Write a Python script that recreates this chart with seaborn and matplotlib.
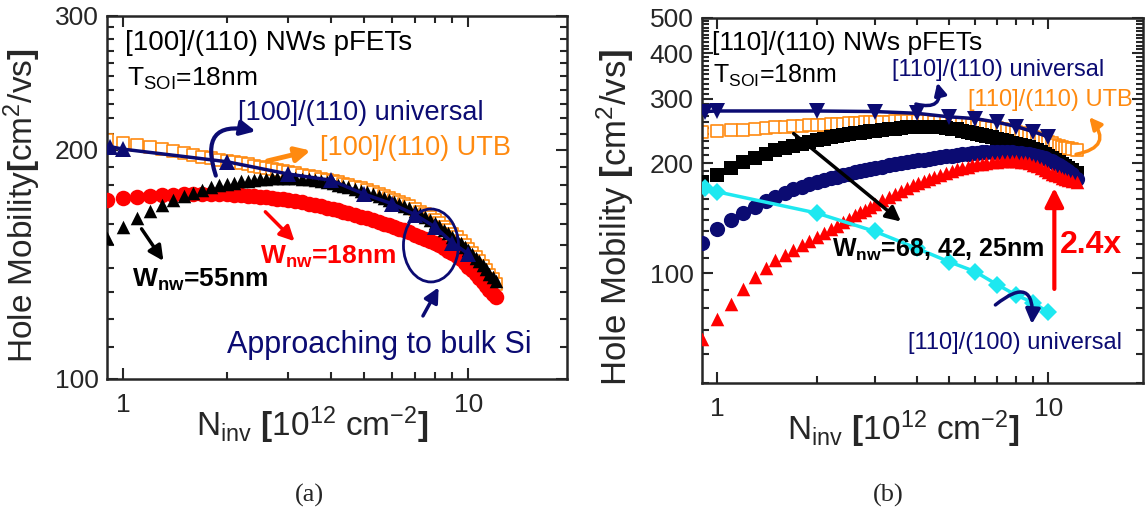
import matplotlib
matplotlib.use("Agg")
import matplotlib.pyplot as plt
from matplotlib.patches import Ellipse, FancyArrowPatch
from matplotlib.ticker import FixedLocator, FixedFormatter, MultipleLocator, NullFormatter
import seaborn as sns

# ---------------- data: panel (a) [100]/(110) ----------------
n_inv_a = [0.9, 1.0, 1.1, 1.2, 1.3, 1.4, 1.5, 1.6, 1.7, 1.8, 1.9, 2.0,
           2.1, 2.2, 2.3, 2.4, 2.5, 2.6, 2.7, 2.8, 2.9, 3.0,
           3.15, 3.3, 3.45, 3.6, 3.75, 3.9, 4.05, 4.2, 4.35, 4.5,
           4.7, 4.9, 5.1, 5.3, 5.5, 5.7, 5.9, 6.1, 6.3, 6.5,
           6.75, 7.0, 7.25, 7.5, 7.75, 8.0, 8.25, 8.5, 8.75, 9.0, 9.25,
           9.5, 9.75, 10.0, 10.25, 10.5, 10.75, 11.0, 11.25, 11.5, 11.75, 12.0]
mu_utb_a = [206, 204.5, 203, 201.6, 200.3, 199.1, 198, 197, 196, 195.1, 194.3, 193.5,
            192.8, 192.1, 191.4, 190.8, 190.2, 189.6, 189, 188.4, 187.8, 187.2,
            186.4, 185.6, 184.8, 184.1, 183.4, 182.7, 182, 181.3, 180.6, 179.9,
            178.9, 178, 177, 176, 175, 174, 173, 172, 171, 170,
            168.7, 167.4, 166, 164.6, 163.2, 161.7, 160.2, 158.6, 157, 155.3, 153.6,
            151.9, 150.1, 148.3, 146.5, 144.7, 142.8, 140.9, 139, 137.1, 135.2, 133.3]
mu_w18_a = [172, 173, 173.5, 174, 174.3, 174.6, 174.8, 175, 175, 175, 175, 174.8,
            174.6, 174.4, 174.2, 173.9, 173.6, 173.3, 173, 172.6, 172.2, 171.8,
            171.2, 170.6, 170, 169.3, 168.6, 168, 167.3, 166.6, 165.9, 165.2,
            164.2, 163.4, 162.6, 161.7, 160.8, 160, 159.2, 158.4, 157.6, 156.8,
            155.8, 154.8, 153.8, 152.8, 151.8, 150.8, 149.8, 148.7, 147.5, 146.2, 144.9,
            143.6, 142.1, 140.5, 138.9, 137.2, 135.6, 134, 132.5, 131, 129.5, 128]
mu_w55_a = [153, 158.5, 163, 166.5, 169.5, 172, 174, 175.8, 177.3, 178.6, 179.6, 180.5,
            181.2, 181.8, 182.3, 182.7, 183, 183.3, 183.5, 183.6, 183.7, 183.7,
            183.6, 183.3, 183, 182.5, 182, 181.4, 180.8, 180.1, 179.5, 178.8,
            177.8, 176.9, 175.9, 174.9, 173.9, 172.9, 171.9, 170.9, 169.9, 168.9,
            167.6, 166.3, 164.9, 163.4, 161.9, 160.4, 158.8, 157.2, 155.6, 153.8, 152.3,
            150.8, 149.2, 147.6, 146, 144.4, 142.7, 141, 139.3, 137.6, 136, 134.5]
n_univ_a = [0.92, 1, 2, 3, 4, 5, 6, 7, 8, 9, 10]
mu_univ_a = [202, 200.5, 193, 186, 182.5, 175, 170, 164.5, 158.5, 151, 146]

# ---------------- data: panel (b) [110]/(110) ----------------
n_inv_b = [0.9, 1.0, 1.1, 1.2, 1.3, 1.4, 1.5, 1.6, 1.7, 1.8, 1.9, 2.0,
           2.1, 2.2, 2.3, 2.4, 2.5, 2.6, 2.7, 2.8, 2.9, 3.0,
           3.15, 3.3, 3.45, 3.6, 3.75, 3.9, 4.05, 4.2, 4.35, 4.5,
           4.7, 4.9, 5.1, 5.3, 5.5, 5.7, 5.9, 6.1, 6.3, 6.5,
           6.75, 7.0, 7.25, 7.5, 7.75, 8.0, 8.25, 8.5, 8.75, 9.0, 9.25,
           9.5, 9.75, 10.0, 10.25, 10.5, 10.75, 11.0, 11.25, 11.5, 11.75, 12.2]
mu_utb_b = [243, 244.5, 246, 247.3, 248.5, 249.5, 250.5, 251.4, 252.2, 253, 253.7, 254.4,
            255.1, 255.7, 256.3, 256.8, 257.3, 257.8, 258.2, 258.6, 259, 259.3,
            259.7, 260, 260.2, 260.4, 260.5, 260.5, 260.5, 260.4, 260.2, 259.9,
            259.4, 258.9, 258.3, 257.6, 256.8, 255.9, 255, 254, 252.9, 251.8,
            250.4, 249, 247.5, 246, 244.4, 242.8, 241.2, 239.5, 237.8, 236, 234.2,
            232.4, 230.5, 228.7, 226.8, 225, 223.5, 222, 220.8, 219.5, 218.5, 217]
mu_w68_b = [178, 186, 194.5, 201, 207, 212.3, 216.8, 220.5, 223.6, 226.4, 229, 231.5,
            233.5, 235.3, 237, 238.5, 239.9, 241.2, 242.3, 243.4, 244.5, 245.5,
            246.8, 247.9, 248.9, 249.8, 250.6, 251.1, 251.6, 251.8, 251.8, 251.6,
            251, 250, 248.9, 247.5, 245.7, 243.9, 242.2, 240.5, 238.9, 237.2,
            235.2, 233.2, 231.3, 229.5, 227.8, 226.2, 224.6, 222.9, 221, 219, 216.8,
            214.5, 211.8, 209, 206.2, 203.5, 201, 198.5, 196.2, 194, 191.8, 188]
mu_w42_b = [121, 132, 139.5, 146, 152, 157.3, 162, 166.2, 169.6, 172.6, 175.3, 177.8,
            180, 182, 183.8, 185.5, 187.2, 188.8, 190.3, 191.7, 193, 194.2,
            195.8, 197.3, 198.7, 200, 201.2, 202.4, 203.5, 204.5, 205.5, 206.4,
            207.6, 208.7, 209.7, 210.6, 211.5, 212.3, 213, 213.6, 214.1, 214.5,
            214.8, 215, 215, 214.8, 214.4, 213.9, 213.3, 212.5, 211.5, 210.4, 209.2,
            207.8, 206.2, 204.5, 202.5, 200.4, 198.1, 195.6, 193, 190.2, 187.2, 181]
mu_w25_b = [66, 75, 82.5, 90.5, 97.5, 103.3, 108.3, 112.3, 116, 119.4, 122.7, 125.9,
            129, 132, 135, 138, 141, 143.8, 146.6, 149.3, 152, 154.6,
            158.3, 161.8, 165, 168, 171.2, 174.1, 176.8, 179.2, 181.4, 183.6,
            186.2, 188.5, 190.5, 192.4, 194.2, 195.8, 197.2, 198.4, 199.4, 200.3,
            201.2, 202, 202.4, 202.6, 202.6, 202.4, 201.9, 201.1, 199.8, 198, 196,
            194, 191.8, 189.5, 187.4, 185.5, 183.9, 182.5, 181.3, 180.2, 179.2, 177.5]
n_univ_b = [0.92, 1, 2, 3, 4, 5, 6, 7, 8, 9, 10]
mu_univ_110_b = [277, 278, 278, 277, 274, 268, 265, 259, 252, 244, 236]
mu_univ_100_b = [171, 167, 146, 130, 117, 107.5, 101, 93, 87, 83, 78]

x_ticks = [1, 10]
x_tick_labels = ["1", "10"]
y_ticks_a = [100, 200, 300]
y_ticks_b = [100, 200, 300, 400, 500]

NAVY = "#0b0b72"
ORANGE = "#ff8a10"
RED = "#ff0000"
CYAN = "#1ee8f0"

sns.set_style("ticks")
plt.rcParams["font.family"] = ["Liberation Sans", "DejaVu Sans"]
plt.rcParams["mathtext.fontset"] = "custom"
plt.rcParams["mathtext.rm"] = "Liberation Sans"
plt.rcParams["mathtext.it"] = "Liberation Sans:italic"
plt.rcParams["mathtext.bf"] = "Liberation Sans:bold"

fig = plt.figure(figsize=(11.47, 5.12), dpi=100)
ax_a = fig.add_axes([0.0933, 0.2598, 0.401, 0.709])
ax_b = fig.add_axes([0.612, 0.252, 0.3845, 0.713])


def style_axes(ax, ylim, yticks):
    ax.set_xscale("log")
    ax.set_yscale("log")
    ax.set_xlim(0.9, 19.3)
    ax.set_ylim(*ylim)
    ax.xaxis.set_major_locator(FixedLocator(x_ticks))
    ax.xaxis.set_major_formatter(FixedFormatter(x_tick_labels))
    ax.xaxis.set_minor_locator(FixedLocator([2, 3, 4, 5, 6, 7, 8, 9]))
    ax.xaxis.set_minor_formatter(NullFormatter())
    ax.yaxis.set_major_locator(FixedLocator(yticks))
    ax.yaxis.set_major_formatter(FixedFormatter([str(v) for v in yticks]))
    ax.yaxis.set_minor_locator(MultipleLocator(10))
    ax.yaxis.set_minor_formatter(NullFormatter())
    ax.tick_params(which="both", direction="in", top=True, right=True, width=1.5)
    ax.tick_params(which="major", length=8, labelsize=19)
    ax.tick_params(which="minor", length=5)
    ax.tick_params(axis="x", pad=10)
    ax.tick_params(axis="y", pad=6)
    for sp in ax.spines.values():
        sp.set_linewidth(1.8)


def arrow(ax, start, end, color, lw=2.5, rad=0.0, scale=22):
    ax.add_patch(FancyArrowPatch(start, end, transform=ax.transAxes, color=color, lw=lw,
                                 arrowstyle="-|>", mutation_scale=scale,
                                 connectionstyle=f"arc3,rad={rad}", clip_on=False,
                                 zorder=8))


def note(ax, x, y, s, size, color="black", weight="normal"):
    ax.text(x, y, s, transform=ax.transAxes, fontsize=size, va="center", color=color,
            fontweight=weight, zorder=10)


# ---------------- panel (a) ----------------
style_axes(ax_a, (100, 300), y_ticks_a)
sns.scatterplot(x=n_inv_a, y=mu_utb_a, ax=ax_a, marker="s", s=75, color=ORANGE,
                facecolor="white", edgecolor=ORANGE, linewidth=1.2, zorder=2)
sns.scatterplot(x=n_inv_a, y=mu_w18_a, ax=ax_a, marker="o", s=125, color=RED,
                linewidth=0, zorder=3)
sns.scatterplot(x=n_inv_a, y=mu_w55_a, ax=ax_a, marker="^", s=95, color="black",
                linewidth=0, zorder=4)
sns.lineplot(x=n_univ_a, y=mu_univ_a, ax=ax_a, color=NAVY, linewidth=2.5, marker="^",
             markersize=11, markeredgewidth=0, zorder=5)

ax_a.set_ylabel(r"Hole Mobility$\mathbf{[}$cm$^2$/vs$\mathbf{]}$", fontsize=24)
ax_a.yaxis.set_label_coords(-0.139, 0.477)
ax_a.set_xlabel(r"N$_{\rm inv}$ $\mathbf{[}$10$^{12}$ cm$^{-2}\mathbf{]}$", fontsize=24)
ax_a.xaxis.set_label_coords(0.446, -0.07)
ax_a.xaxis.label.set_va("top")

note(ax_a, 0.039, 0.926, "[100]/(110) NWs pFETs", 20)
note(ax_a, 0.043, 0.826, r"T$_{\rm SOI}$=18nm", 19)
note(ax_a, 0.285, 0.732, "[100]/(110) universal", 19.5, NAVY)
note(ax_a, 0.463, 0.636, "[100]/(110) UTB", 19.5, ORANGE)
note(ax_a, 0.054, 0.273, r"W$_{\mathbf{nw}}$=55nm", 19, "black", "bold")
note(ax_a, 0.333, 0.337, r"W$_{\mathbf{nw}}$=18nm", 19, RED, "bold")
note(ax_a, 0.261, 0.094, "Approaching to bulk Si", 22, NAVY)

ax_a.add_patch(Ellipse((0.7043, 0.3678), 0.1196, 0.201, transform=ax_a.transAxes,
                       fill=False, edgecolor=NAVY, lw=2, zorder=6))
arrow(ax_a, (0.684, 0.167), (0.7239, 0.259), NAVY)
arrow(ax_a, (0.2385, 0.553), (0.329, 0.681), NAVY, lw=3, rad=-0.9)
arrow(ax_a, (0.343, 0.599), (0.4485, 0.631), ORANGE, lw=3.5)
arrow(ax_a, (0.34, 0.466), (0.412, 0.374), RED)
arrow(ax_a, (0.0717, 0.42), (0.126, 0.319), "black")

# ---------------- panel (b) ----------------
style_axes(ax_b, (50, 500), y_ticks_b)
sns.scatterplot(x=n_inv_b, y=mu_utb_b, ax=ax_b, marker="s", s=85, color=ORANGE,
                facecolor="white", edgecolor=ORANGE, linewidth=1.2, zorder=2)
sns.scatterplot(x=n_inv_b, y=mu_w68_b, ax=ax_b, marker="s", s=100, color="black",
                linewidth=0, zorder=3)
sns.scatterplot(x=n_inv_b, y=mu_w42_b, ax=ax_b, marker="o", s=120, color=NAVY,
                linewidth=0, zorder=3)
sns.scatterplot(x=n_inv_b, y=mu_w25_b, ax=ax_b, marker="^", s=95, color=RED,
                linewidth=0, zorder=4)
sns.lineplot(x=n_univ_b, y=mu_univ_100_b, ax=ax_b, color=CYAN, linewidth=2.5, marker="D",
             markersize=9, markeredgewidth=0, zorder=5)
sns.lineplot(x=n_univ_b, y=mu_univ_110_b, ax=ax_b, color=NAVY, linewidth=2.5, marker="v",
             markersize=11, markeredgewidth=0, zorder=5)

ax_b.set_ylabel(r"Hole Mobility $\mathbf{[}$cm$^2$/vs$\mathbf{]}$", fontsize=25)
ax_b.yaxis.set_label_coords(-0.15, 0.455)
ax_b.set_xlabel(r"N$_{\rm inv}$ $\mathbf{[}$10$^{12}$ cm$^{-2}\mathbf{]}$", fontsize=24)
ax_b.xaxis.set_label_coords(0.456, -0.07)
ax_b.xaxis.label.set_va("top")

note(ax_b, 0.023, 0.93, "[110]/(110) NWs pFETs", 19)
note(ax_b, 0.025, 0.84, r"T$_{\rm SOI}$=18nm", 18)
note(ax_b, 0.43, 0.857, "[110]/(110) universal", 17, NAVY)
note(ax_b, 0.604, 0.775, "[110]/(110) UTB", 17, ORANGE)
note(ax_b, 0.294, 0.364, r"W$_{\mathbf{nw}}$=68, 42, 25nm", 18, "black", "bold")
note(ax_b, 0.812, 0.378, "2.4x", 23, RED, "bold")
note(ax_b, 0.468, 0.109, "[110]/(100) universal", 17, NAVY)

arrow(ax_b, (0.203, 0.688), (0.456, 0.4375), "black", lw=2.5)
arrow(ax_b, (0.799, 0.25), (0.799, 0.542), RED, lw=3, scale=28)
arrow(ax_b, (0.479, 0.766), (0.532, 0.83), NAVY, lw=2.5, rad=0.9, scale=18)
arrow(ax_b, (0.842, 0.625), (0.874, 0.734), ORANGE, lw=2.5, rad=0.9, scale=18)
arrow(ax_b, (0.6605, 0.209), (0.7476, 0.154), NAVY, lw=2.5, rad=-1.2, scale=22)

fig.text(0.27, 0.033, "(a)", fontsize=19, ha="center", va="center",
         family=["Liberation Serif", "DejaVu Serif"])
fig.text(0.774, 0.033, "(b)", fontsize=19, ha="center", va="center",
         family=["Liberation Serif", "DejaVu Serif"])

fig.savefig("out.png", dpi=100)
